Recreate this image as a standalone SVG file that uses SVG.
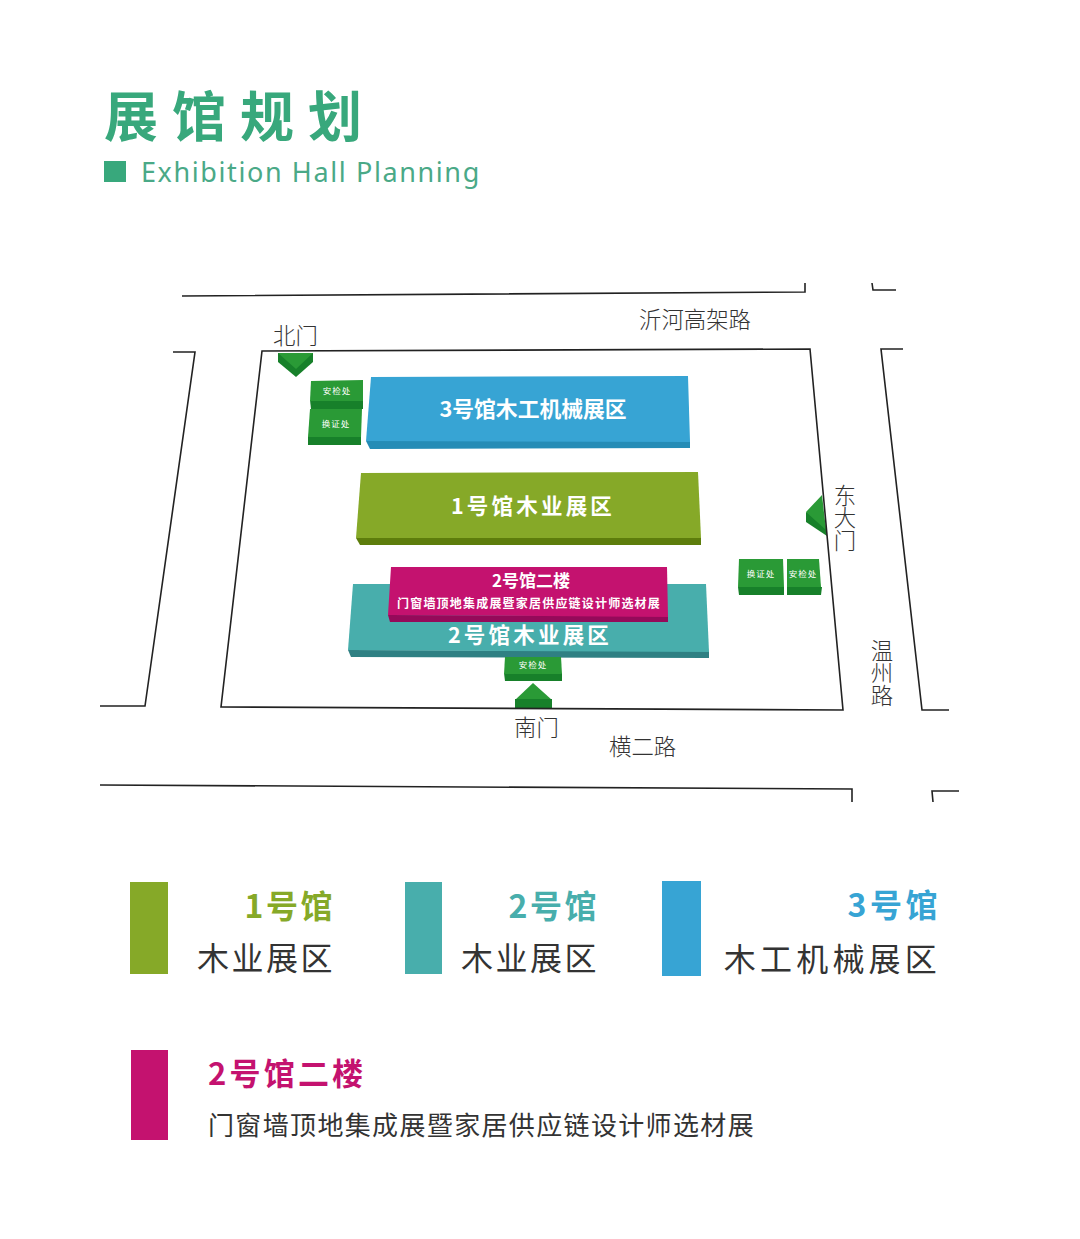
<svg xmlns="http://www.w3.org/2000/svg" width="1080" height="1239" viewBox="0 0 1080 1239">
<style>
text{font-family:"Noto Sans CJK SC","Noto Sans",sans-serif}
.road{fill:none;stroke:#222;stroke-width:1.6}
.lab{font-size:22.4px;fill:#333;font-weight:300}
.v{writing-mode:vertical-rl}
.w{fill:#fff;font-weight:700;text-anchor:middle}
.s{fill:#fff;font-size:8.5px;text-anchor:middle;letter-spacing:1px}
.gt{fill:#2a9a36}.gs{fill:#17802a}
.lh{font-weight:700;font-size:32px;letter-spacing:2.5px;text-anchor:end}
.lb{font-size:32px;fill:#333;font-weight:400;letter-spacing:2.5px;text-anchor:end}
</style>
<rect width="1080" height="1239" fill="#fff"/>
<g id="title">
<text x="104" y="137" font-size="54" font-weight="700" fill="#38a87c" letter-spacing="14">展馆规划</text>
<rect x="104" y="161" width="22" height="21" fill="#38a87c"/>
<text x="141" y="182" font-size="27" fill="#4aa987" letter-spacing="1.6" style="font-family:'Noto Sans',sans-serif">Exhibition Hall Planning</text>
</g>
<g id="north-gate">
<path class="gs" d="M278 353H313V362L296 377L278 362Z"/>
<path class="gt" d="M278 353H313L296 369Z"/>
<text class="lab" x="273" y="344">北门</text>
</g>
<g id="east-gate">
<path class="gs" d="M806 512L806 522L827 536L825 522Z"/>
<path class="gt" d="M806 512L822 495L826 530Z"/>
<text class="lab v" x="845" y="484">东大门</text>
</g>
<g id="south-gate">
<path class="gt" d="M515 700L533 683L552 700Z"/>
<rect class="gs" x="515" y="699" width="37" height="9"/>
<text class="lab" x="514" y="736">南门</text>
</g>
<g id="connectors">
<path class="road" d="M182 296L805 292V283"/>
<path class="road" d="M872 283L873 290H896"/>
<path class="road" d="M173 352H195L145 706H100"/>
<path class="road" d="M903 349H881L922 710H949"/>
<path class="road" d="M100 785L852 789V802"/>
<path class="road" d="M933 802L932 791H959"/>
<path class="road" d="M262 351L810 349L843 710L221 707Z"/>
</g>
<g id="road-labels">
<text class="lab" x="639" y="328">沂河高架路</text>
<text class="lab" x="609" y="755">横二路</text>
<text class="lab v" x="882" y="639">温州路</text>
</g>
<g id="hall-3">
<path fill="#258cb6" d="M366 441L690 441V448L370 449Z"/>
<path fill="#37a4d4" d="M371 377L688 376L690 442L366 441Z"/>
<text class="w" x="533" y="417" font-size="21.8">3号馆木工机械展区</text>
</g>
<g id="hall-1">
<path fill="#5d7d0c" d="M356 538L701 538V545L360 545Z"/>
<path fill="#86a928" d="M361 473L698 472L701 538L356 538Z"/>
<text class="w" x="533" y="514" font-size="21.5" letter-spacing="3.2">1号馆木业展区</text>
</g>
<g id="hall-2">
<path fill="#2f8083" d="M348 650L709 651V658L351 657Z"/>
<path fill="#48aeac" d="M353 584L706 584L709 652L348 650Z"/>
<text class="w" x="530" y="643" font-size="21.5" letter-spacing="3.2">2号馆木业展区</text>
</g>
<g id="hall-2f">
<path fill="#950a5a" d="M388 615L668 616V622L390 622Z"/>
<path fill="#c4126f" d="M391 567L667 567L668 617L388 615Z"/>
<text class="w" x="531" y="587" font-size="17">2号馆二楼</text>
<text class="w" x="529" y="608" font-size="12" letter-spacing="1.2">门窗墙顶地集成展暨家居供应链设计师选材展</text>
</g>
<g id="check-nw">
<path class="gs" d="M310 400H363V409H311Z"/>
<path class="gt" d="M311 381L363 380V401H310Z"/>
<text class="s" x="337" y="394">安检处</text>
</g>
<g id="permit-nw">
<path class="gs" d="M308 437H361V445H308Z"/>
<path class="gt" d="M310 409L362 409L361 437H308Z"/>
<text class="s" x="336" y="427">换证处</text>
</g>
<g id="permit-e">
<path class="gs" d="M738 587H784V595H739Z"/>
<path class="gt" d="M739 559H783L784 587H738Z"/>
<text class="s" x="761" y="577">换证处</text>
</g>
<g id="check-e">
<path class="gs" d="M787 587H822L821 595H787Z"/>
<path class="gt" d="M787 559H819L821 587H787Z"/>
<text class="s" x="803" y="577">安检处</text>
</g>
<g id="check-s">
<path class="gs" d="M504 673H562V681H505Z"/>
<path class="gt" d="M505 657H561L562 674H504Z"/>
<text class="s" x="533" y="668">安检处</text>
</g>
<g id="legend-1">
<rect x="130" y="882" width="38" height="92" fill="#86a928"/>
<text class="lh" x="335" y="918" fill="#86a928">1号馆</text>
<text class="lb" x="335" y="970">木业展区</text>
</g>
<g id="legend-2">
<rect x="405" y="882" width="37" height="92" fill="#48aeac"/>
<text class="lh" x="599" y="918" fill="#48aeac">2号馆</text>
<text class="lb" x="599" y="970">木业展区</text>
</g>
<g id="legend-3">
<rect x="662" y="881" width="39" height="95" fill="#37a4d4"/>
<text class="lh" x="941" y="917" fill="#37a4d4" style="letter-spacing:3.5px">3号馆</text>
<text class="lb" x="941" y="971" style="letter-spacing:4.2px">木工机械展区</text>
</g>
<g id="legend-4">
<rect x="131" y="1050" width="37" height="90" fill="#c4126f"/>
<text x="208" y="1085" font-size="31" font-weight="700" fill="#c4126f" letter-spacing="3.2">2号馆二楼</text>
<text x="208" y="1135" font-size="26" fill="#333" letter-spacing="1.35">门窗墙顶地集成展暨家居供应链设计师选材展</text>
</g>
</svg>
